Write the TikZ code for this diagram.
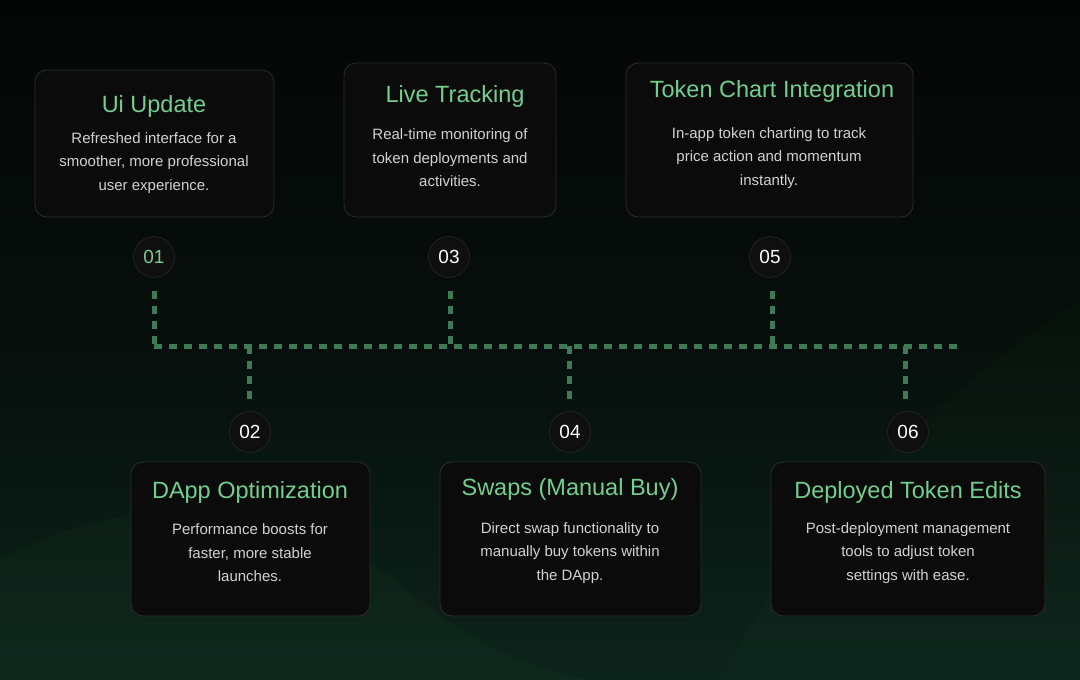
\documentclass[tikz,border=0pt]{standalone}
\usepackage{fontspec}
\setmainfont{Liberation Sans}
\usepackage{tikz}
\usetikzlibrary{positioning, calc}
\definecolor{bgTop}{HTML}{040605}
\definecolor{bgBot}{HTML}{0C231B}
\definecolor{cardFill}{HTML}{0B0B0B}
\definecolor{cardLine}{HTML}{2C2C2C}
\definecolor{numFill}{HTML}{0F0F0F}
\definecolor{numLine}{HTML}{222222}
\definecolor{mGreen}{HTML}{72CF8E}
\definecolor{mDash}{HTML}{3E7A56}
\definecolor{mBody}{HTML}{D2D2D2}

\begin{document}
\begin{tikzpicture}[x=1pt, y=-1pt,
    card/.style={draw=cardLine, line width=0.8pt, fill=cardFill, rounded corners=12pt,
                 inner sep=0pt},
    ttl/.style={text=mGreen, font=\fontsize{23.5}{27}\selectfont, inner sep=0pt},
    body/.style={text=mBody, font=\fontsize{15}{23.5}\selectfont, align=center, inner sep=0pt},
    num/.style={circle, fill=numFill, draw=numLine, line width=0.8pt, minimum size=41pt,
                inner sep=0pt, font=\fontsize{19}{21}\selectfont, text=white},
    link/.style={draw=mDash, line width=5pt, dash pattern=on 8pt off 7pt},
  ]
    % background
    \shade[top color=bgTop, bottom color=bgBot, middle color=bgTop!70!bgBot]
      (0,0) rectangle (1080,680);
    \useasboundingbox (0,0) rectangle (1080,680);
    \fill[mDash, opacity=0.06] (0,560) .. controls (150,480) and (300,500) .. (420,600)
      .. controls (480,650) and (560,680) .. (600,680) -- (0,680) -- cycle;
    \fill[mDash, opacity=0.04] (1080,300) .. controls (900,420) and (780,560) .. (720,680)
      -- (1080,680) -- cycle;

    % top row: cards
    \node[card, minimum width=239pt, minimum height=147pt] (b1) at (154.5,143.5) {};
    \node[card, minimum width=212pt, minimum height=154pt] (b3) at (450,140) {};
    \node[card, minimum width=287pt, minimum height=154pt] (b5) at (769.5,140) {};
    \node[ttl] (t1) at (154,106) {Ui Update};
    \node[ttl] (t3) at (455,96) {Live Tracking};
    \node[ttl] (t5) at (772,91) {Token Chart Integration};
    \node[body] (d1) at (154,163) {Refreshed interface for a\\smoother, more professional\\user experience.};
    \node[body] (d3) at (450,158) {Real-time monitoring of\\token deployments and\\activities.};
    \node[body] (d5) at (769,158) {In-app token charting to track\\price action and momentum\\instantly.};

    % bottom row: cards
    \node[card, minimum width=239pt, minimum height=154pt] (b2) at (250.5,539) {};
    \node[card, minimum width=261pt, minimum height=154pt] (b4) at (570.5,539) {};
    \node[card, minimum width=274pt, minimum height=154pt] (b6) at (908,539) {};
    \node[ttl] (t2) at (250,492) {DApp Optimization};
    \node[ttl] (t4) at (570,489) {Swaps (Manual Buy)};
    \node[ttl] (t6) at (908,492) {Deployed Token Edits};
    \node[body] (d2) at (250,553) {Performance boosts for\\faster, more stable\\launches.};
    \node[body] (d4) at (570,553) {Direct swap functionality to\\manually buy tokens within\\the DApp.};
    \node[body] (d6) at (908,553) {Post-deployment management\\tools to adjust token\\settings with ease.};

    % step numbers
    \node[num, text=mGreen] (n1) at (154,257) {01};
    \node[num] (n3) at (449,257) {03};
    \node[num] (n5) at (770,257) {05};
    \node[num] (n2) at (250,432) {02};
    \node[num] (n4) at (570,432) {04};
    \node[num] (n6) at (908,432) {06};

    % bus joints
    \coordinate (busL) at (154,346);
    \coordinate (busR) at (962,346);
    \coordinate (j1) at (154,346);
    \coordinate (j3) at (450,346);
    \coordinate (j5) at (772,346);
    \coordinate (j2) at (249,346);
    \coordinate (j4) at (569,346);
    \coordinate (j6) at (905,346);

    % dotted connectors
    \draw[link] (busL) -- (busR);
    \draw[link, shorten <=13pt] (n1) -- (j1);
    \draw[link, shorten <=13pt] (n3.south -| j3) -- (j3);
    \draw[link, shorten <=13pt] (n5.south -| j5) -- (j5);
    \draw[link, shorten >=7pt] (j2) -- (n2.north -| j2);
    \draw[link, shorten >=7pt] (j4) -- (n4.north -| j4);
    \draw[link, shorten >=7pt] (j6) -- (n6.north -| j6);
  \end{tikzpicture}
\end{document}
